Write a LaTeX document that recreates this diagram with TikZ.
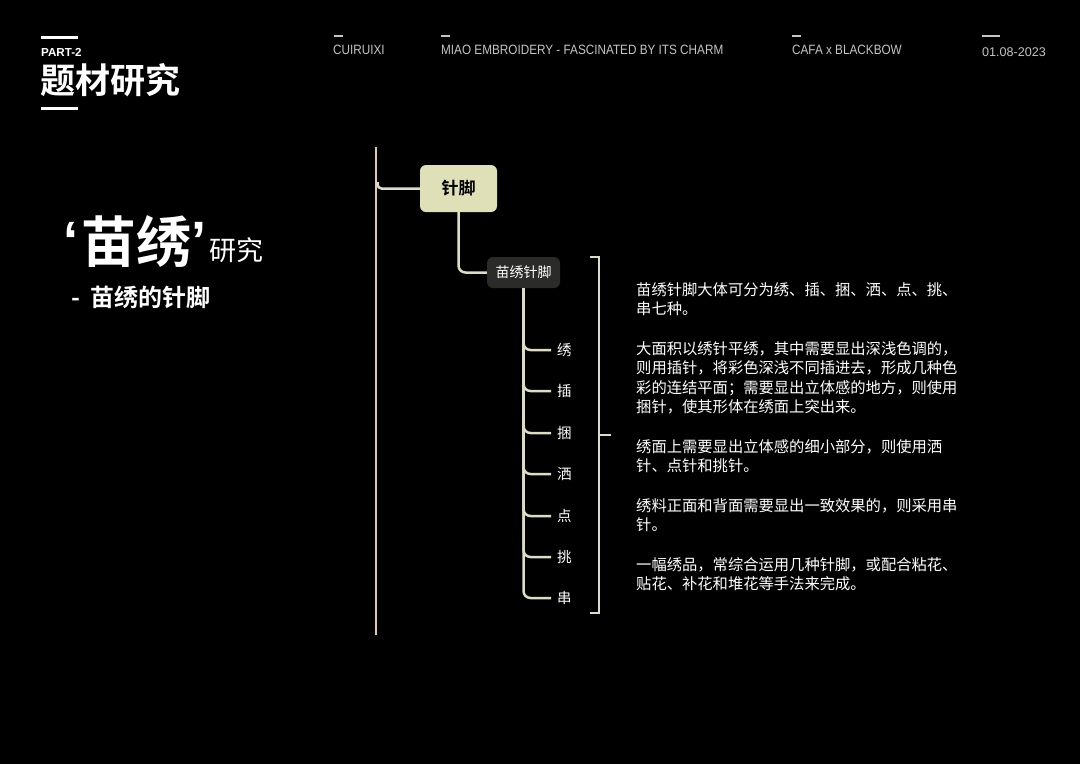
\documentclass[tikz,border=0pt]{standalone}
\usepackage{fontspec}
\setmainfont{Liberation Sans}
\newfontfamily\cjk{Noto Sans CJK SC}
\newfontfamily\cjkb{Noto Sans CJK SC Bold}
\usetikzlibrary{positioning}
\definecolor{hdr}{HTML}{C4C4C4}
\definecolor{pinkline}{HTML}{E4C4BE}
\definecolor{beige}{HTML}{DDDCC4}
\definecolor{olivebox}{HTML}{DFE0B8}
\definecolor{darkbox}{HTML}{2B2B29}
\tikzset{
  bar/.style={white, line width=3pt},
  hbar/.style={hdr, line width=2.8pt},
  hdrtext/.style={text=hdr, font=\fontsize{13.5}{15}\selectfont, anchor=west, inner sep=0pt, xscale=0.87},
  conn/.style={beige, line width=2.5pt, rounded corners=7pt},
  leaf/.style={text=white, font=\cjk\fontsize{14.5}{16}\selectfont, anchor=west, inner xsep=6pt, inner ysep=0pt},
  para/.style={text=white, font=\cjk\fontsize{15.3}{19.6}\selectfont, anchor=north west, inner sep=0pt, align=left, text width=340pt},
}
\begin{document}
\begin{tikzpicture}[x=1pt,y=-1pt]
\fill[black] (0,0) rectangle (1080,764);
\useasboundingbox (0,0) rectangle (1080,764);
% top-left title
\draw[bar] (41,37) -- (78,37);
\node[anchor=west, inner sep=0pt, text=white, font=\bfseries\fontsize{11.6}{13}\selectfont] (part) at (41,52) {PART-2};
\node[anchor=west, inner sep=0pt, text=white, font=\cjkb\fontsize{35}{38}\selectfont] (ttl) at (40,80) {题材研究};
\draw[bar] (41,108) -- (78,108);
% header
\draw[hbar] (334,36) -- (343,36);
\node[hdrtext] (h1) at (333,50) {CUIRUIXI};
\draw[hbar] (441,36) -- (450,36);
\node[hdrtext] (h2) at (441,50) {MIAO EMBROIDERY - FASCINATED BY ITS CHARM};
\draw[hbar] (792,36) -- (801,36);
\node[hdrtext] (h3) at (792,50) {CAFA x BLACKBOW};
\draw[hbar] (982,36) -- (1000,36);
\node[text=hdr, font=\fontsize{12.6}{14}\selectfont, anchor=west, inner sep=0pt] (h4) at (982,52.5) {01.08-2023};
% big title
\node[anchor=west, inner sep=0pt, text=white, font=\bfseries\fontsize{54}{58}\selectfont] (q1) at (63,241) {‘};
\node[anchor=west, inner sep=0pt, text=white, font=\cjkb\fontsize{55}{58}\selectfont] (mx) at (81,241) {苗绣};
\node[anchor=west, inner sep=0pt, text=white, font=\bfseries\fontsize{54}{58}\selectfont] (q2) at (191,241) {’};
\node[anchor=west, inner sep=0pt, text=white, font=\cjk\fontsize{27}{30}\selectfont] (yj) at (209,250) {研究};
\node[anchor=west, inner sep=0pt, text=white, font=\cjkb\fontsize{24}{28}\selectfont] (sub) at (71,297) {-\hspace{10pt}苗绣的针脚};
% main line
\coordinate (mtop) at (376,147);
\coordinate (mbot) at (376,635);
\draw[pinkline, line width=2.5pt] (mtop) -- (mbot);
% nodes
\node[fill=olivebox, rounded corners=6pt, minimum width=77pt, minimum height=47pt, inner sep=0pt,
      font=\cjkb\fontsize{17}{20}\selectfont, text=black] (zj) at (458.5,188.5) {针脚};
\node[fill=darkbox, rounded corners=6pt, minimum width=73pt, minimum height=31pt, inner sep=0pt,
      font=\cjk\fontsize{14}{16}\selectfont, text=white] (mxzj) at (523.5,272.5) {苗绣针脚};
\coordinate (zjb) at (377.5,182);
\draw[beige, line width=2.5pt, rounded corners=4pt] (zjb) |- (zj.west);
\draw[conn] (zj.south) |- (mxzj.west);
% leaves
\foreach \n/\t/\y in {l1/绣/350,l2/插/391,l3/捆/433,l4/洒/474,l5/点/516,l6/挑/557,l7/串/598}{
  \node[leaf] (\n) at (551,\y) {\t};
  \draw[conn] (mxzj.south) |- (\n.west);
}
% bracket
\coordinate (bt0) at (590,257);
\coordinate (bt1) at (599,257);
\coordinate (bb1) at (599,613);
\coordinate (bb0) at (590,613);
\coordinate (bm0) at (599,435);
\coordinate (bm1) at (611,435);
\draw[beige, line width=2.2pt] (bt0) -- (bt1) -- (bb1) -- (bb0);
\draw[beige, line width=2.2pt] (bm0) -- (bm1);
% paragraphs
\node[para] (p1) at (636,282) {苗绣针脚大体可分为绣、插、捆、洒、点、挑、\\串七种。};
\node[para] (p2) at (636,341) {大面积以绣针平绣，其中需要显出深浅色调的，\\则用插针，将彩色深浅不同插进去，形成几种色\\彩的连结平面；需要显出立体感的地方，则使用\\捆针，使其形体在绣面上突出来。};
\node[para] (p3) at (636,439) {绣面上需要显出立体感的细小部分，则使用洒\\针、点针和挑针。};
\node[para] (p4) at (636,498) {绣料正面和背面需要显出一致效果的，则采用串\\针。};
\node[para] (p5) at (636,557) {一幅绣品，常综合运用几种针脚，或配合粘花、\\贴花、补花和堆花等手法来完成。};
\end{tikzpicture}
\end{document}
